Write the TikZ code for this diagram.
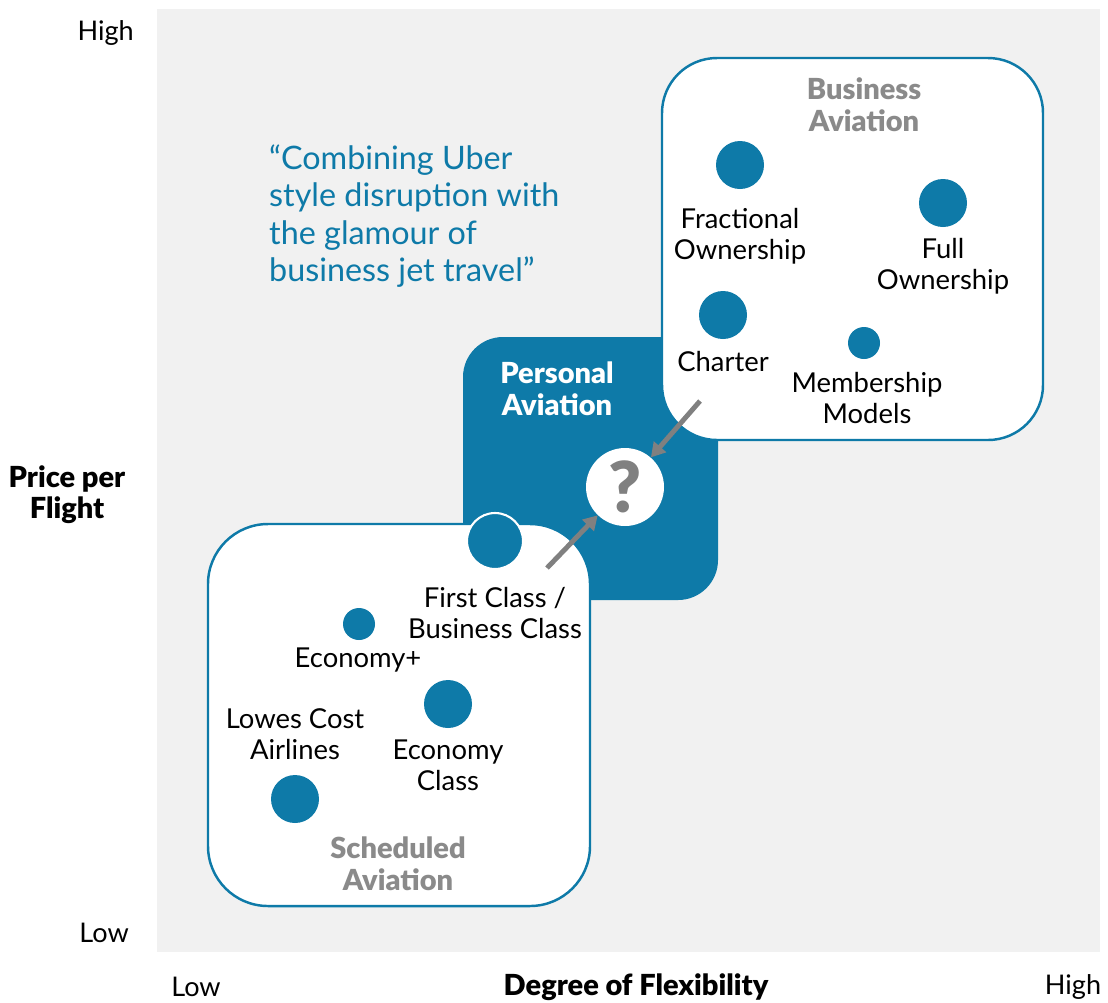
\documentclass[tikz,border=0pt]{standalone}
\usepackage{fontspec}
\setmainfont{Lato}
\newfontfamily\heavyfont{Lato Black}
\usetikzlibrary{arrows.meta}
\definecolor{chartblue}{HTML}{0E7AA8}
\definecolor{panelgray}{HTML}{F1F1F1}
\definecolor{labelgray}{HTML}{8A8A8A}
\definecolor{arrowgray}{HTML}{808080}

\begin{document}
\begin{tikzpicture}[x=0.02cm, y=-0.02cm,
  dot/.style={circle, fill=chartblue, inner sep=0pt},
  bigdot/.style={dot, minimum size=0.96cm},
  smalldot/.style={dot, minimum size=0.64cm},
  lbl/.style={align=center, font=\fontsize{15.6}{17.6}\selectfont},
  head/.style={align=center, font=\fontsize{16.5}{18}\selectfont\heavyfont, text=labelgray},
  axis/.style={font=\fontsize{15.4}{17.6}\selectfont},
  zone/.style={rounded corners=1.1cm, draw=chartblue, line width=1.4pt, fill=white},
  pointer/.style={-{Triangle[length=8pt, width=9pt]}, line width=2.8pt, draw=arrowgray}
]
\useasboundingbox (0,0) rectangle (1108,1002);
\fill[panelgray] (157,9) rectangle (1100,952);

% zones
\fill[chartblue, rounded corners=0.8cm] (463,337) rectangle (718,600);
\draw[zone] (662,58) rectangle (1043,440);
\draw[zone, rounded corners=1.2cm] (208,524) rectangle (590,906);

\node[head, text=white] (personal) at (557,389) {Personal\\Aviation};
\node[head] (business) at (864,105) {Business\\Aviation};
\node[head] (scheduled) at (398,864) {Scheduled\\Aviation};

% business aviation
\node[bigdot] (frac) at (740,165) {};
\node[lbl] (fractxt) at (740,236) {Fractional\\Ownership};
\node[bigdot] (full) at (943,203) {};
\node[lbl] (fulltxt) at (943,266) {Full\\Ownership};
\node[bigdot] (charter) at (723,315) {};
\node[lbl] (chartertxt) at (723,362) {Charter};
\node[smalldot] (member) at (864,343) {};
\node[lbl] (membertxt) at (867,398) {Membership\\Models};

% scheduled aviation
\node[dot, minimum size=1.12cm, draw=white, line width=1.2pt] (first) at (495,541) {};
\node[lbl] (firsttxt) at (495,613) {First Class /\\Business Class};
\node[smalldot] (ecoplus) at (359,624) {};
\node[lbl] (ecoplustxt) at (358,660) {Economy+};
\node[bigdot] (eco) at (448,704) {};
\node[lbl] (ecotxt) at (448,765) {Economy\\Class};
\node[bigdot] (lowcost) at (295,799) {};
\node[lbl] (lowcosttxt) at (295,734) {Lowes Cost\\Airlines};

% personal aviation
\node[circle, fill=white, minimum size=1.56cm, inner sep=0pt, text=arrowgray,
  font=\fontsize{40}{42}\selectfont\heavyfont] (q) at (625,487) {?};
\coordinate (fromtop) at (700,401);
\coordinate (frombottom) at (547,568);
\draw[pointer] (fromtop) -- (q);
\draw[pointer] (frombottom) -- (q);

\node[anchor=west, align=left, text=chartblue, font=\fontsize{18.4}{21.3}\selectfont] (quote) at (263,216)
  {“Combining Uber\\style disruption with\\the glamour of\\business jet travel”};

% axes
\node[axis, anchor=east] (yhigh) at (140,33) {High};
\node[axis, anchor=east] (ylow) at (135,933) {Low};
\node[align=center, font=\fontsize{16.5}{17.6}\selectfont\heavyfont] (ytitle) at (67,495) {Price per\\Flight};
\node[axis] (xlow) at (196,987) {Low};
\node[font=\fontsize{16.5}{17.6}\selectfont\heavyfont] (xtitle) at (636,987) {Degree of Flexibility};
\node[axis] (xhigh) at (1073,987) {High};
\end{tikzpicture}
\end{document}
